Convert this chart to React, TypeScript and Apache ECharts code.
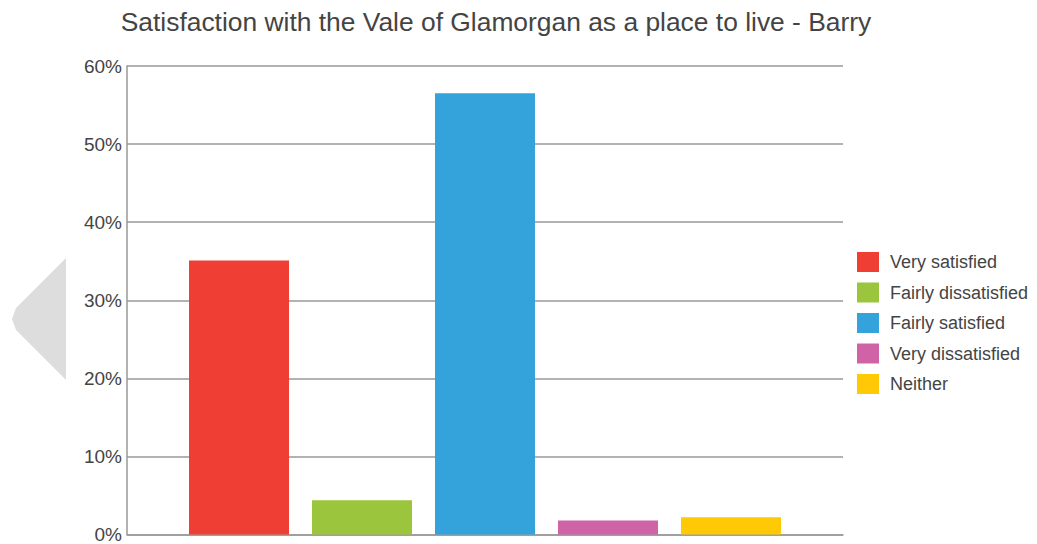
import React, { useEffect, useRef } from "react";
import * as echarts from "echarts";

const title = "Satisfaction with the Vale of Glamorgan as a place to live - Barry";
const categories = ["Barry"];
const seriesNames = ["Very satisfied", "Fairly dissatisfied", "Fairly satisfied", "Very dissatisfied", "Neither"];
const seriesValues = [35.1, 4.4, 56.5, 1.8, 2.2];
const seriesColors = ["#ef3e33", "#9bc53d", "#34a3dc", "#d062a6", "#ffc906"];
const yTicks = [0, 10, 20, 30, 40, 50, 60];

export default function App() {
  const ref = useRef<HTMLDivElement>(null);
  useEffect(() => {
    if (!ref.current) return;
    const chart = echarts.init(ref.current, null, { renderer: "svg" });
    const font = "'Liberation Sans', Arial, sans-serif";
    chart.setOption({
      animation: false,
      backgroundColor: "#ffffff",
      textStyle: { fontFamily: font },
      title: {
        text: title,
        left: 491,
        textAlign: "center",
        top: 4,
        textStyle: { fontFamily: font, fontSize: 26.4, fontWeight: "normal", color: "#444444" },
      },
      legend: {
        orient: "vertical",
        left: 852,
        top: 247,
        itemWidth: 22,
        itemHeight: 20,
        itemGap: 10.5,
        icon: "rect",
        data: seriesNames,
        textStyle: { fontFamily: font, fontSize: 18, color: "#444444", padding: [0, 0, 0, 6] },
      },
      grid: { left: 127, right: 194, top: 66, bottom: 7, containLabel: false },
      xAxis: {
        type: "category",
        data: categories,
        axisLine: { show: true, lineStyle: { color: "#999999", width: 1.5 } },
        axisTick: { show: false },
        axisLabel: { show: false },
      },
      yAxis: {
        type: "value",
        min: yTicks[0],
        max: yTicks[yTicks.length - 1],
        interval: 10,
        axisLine: { show: true, lineStyle: { color: "#999999", width: 1.5 } },
        axisTick: { show: false },
        axisLabel: { formatter: "{value}%", fontFamily: font, fontSize: 19, color: "#444444", margin: 5 },
        splitLine: { show: true, lineStyle: { color: "#999999", width: 1.5 } },
      },
      series: seriesNames.map((name, i) => ({
        name,
        type: "bar",
        data: [seriesValues[i]],
        barWidth: 100,
        barGap: "23%",
        itemStyle: { color: seriesColors[i] },
      })),
      graphic: [
        {
          type: "polygon",
          z: -1,
          shape: {
            points: [
              [66, 258],
              [66, 380],
              [16, 330],
              [12, 319],
              [16, 308],
            ],
          },
          style: { fill: "#dddddd" },
        },
      ],
    });
    return () => chart.dispose();
  }, []);
  return (
    <div
      ref={ref}
      style={{ position: "fixed", left: 0, top: 0, width: 1037, height: 544 }}
    />
  );
}
